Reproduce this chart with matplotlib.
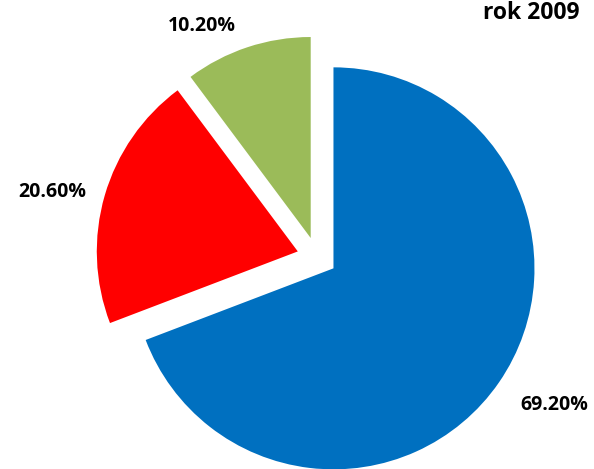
import matplotlib
matplotlib.use("Agg")
import matplotlib.pyplot as plt

categories = ["A", "B", "C"]
values = [69.2, 20.6, 10.2]
labels = ["69.20%", "20.60%", "10.20%"]
colors = ["#0070C0", "#FF0000", "#9BBB59"]
title = "rok 2009"

W, H = 594, 469
fig = plt.figure(figsize=(W / 100, H / 100), dpi=100)
ax = fig.add_axes([0, 0, 1, 1])

center = (317, H - 257)
radius = 201
wedges, _ = ax.pie(values, colors=colors, startangle=90, counterclock=False,
                   center=center, radius=radius, explode=[20, 20, 20],
                   wedgeprops=dict(linewidth=0))
ax.set_xlim(0, W)
ax.set_ylim(0, H)
ax.set_aspect("equal")
ax.axis("off")

font = dict(family=["Open Sans", "DejaVu Sans"], fontweight="bold", color="black")
label_pos = [(554, H - 410), (52, H - 197), (202, H - 31)]
for lab, (lx, ly) in zip(labels, label_pos):
    ax.text(lx, ly, lab, ha="center", va="baseline", fontsize=14, **font)

ax.text(531, H - 19, title, ha="center", va="baseline", fontsize=16.5, **font)

fig.savefig("out.png", dpi=100)
